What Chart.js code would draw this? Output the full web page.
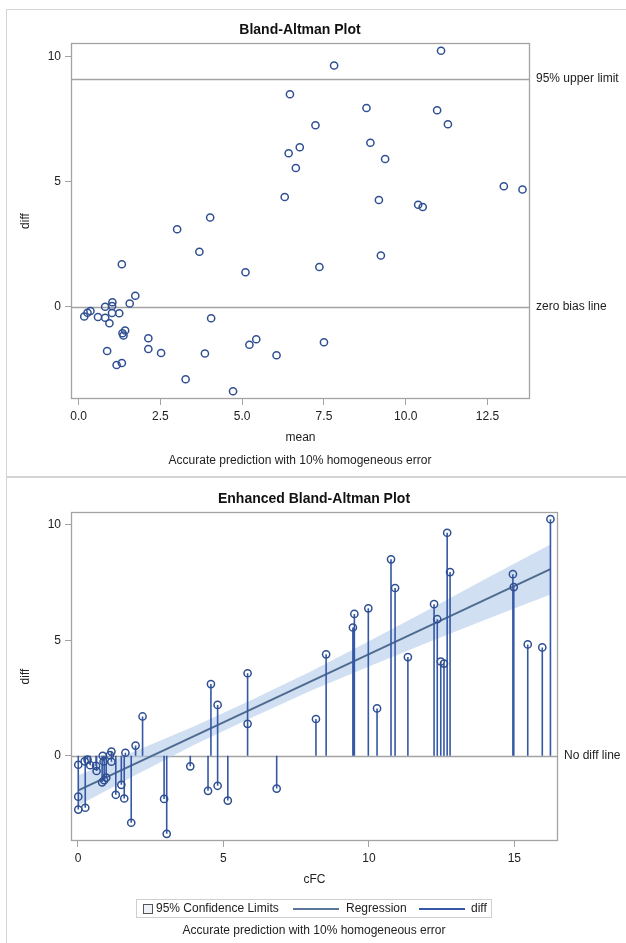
<!DOCTYPE html>
<html>
<head>
<meta charset="utf-8">
<script src="https://cdn.jsdelivr.net/npm/chart.js@4.4.1/dist/chart.umd.min.js"></script>
<style>
  body { margin: 0; background: #fff; font-family: "Liberation Sans", Arial, sans-serif; }
  #page { position: relative; width: 626px; height: 943px; overflow: hidden; background: #fff; }
  canvas { position: absolute; left: 0; }
  .txt { position: absolute; white-space: nowrap; color: #222; font-size: 12px; line-height: 14px; transform: translate(-50%, -50%); }
  .title { font-weight: bold; font-size: 14px; line-height: 16px; color: #111; }
  .frame { position: absolute; background: #d4d4d4; }
  #legend { position: absolute; left: 136px; top: 899px; width: 356px; height: 19px; border: 1px solid #cfcfcf; box-sizing: border-box; font-size: 12px; color: #222; }
  #legend span { position: absolute; top: 1px; line-height: 15px; white-space: nowrap; }
  #legend i { position: absolute; display: block; }
</style>
</head>
<body>
<div id="page">
  <div class="frame" style="left:6px;top:9px;width:620px;height:1px"></div>
  <div class="frame" style="left:6px;top:9px;width:1px;height:934px"></div>
  <div class="frame" style="left:6px;top:476px;width:620px;height:2px"></div>

  <canvas id="top" width="626" height="476" style="top:0"></canvas>
  <canvas id="bottom" width="626" height="466" style="top:477px"></canvas>

  <div class="txt title" style="left:300px;top:29px">Bland-Altman Plot</div>
  <div class="txt" style="left:300px;top:460px">Accurate prediction with 10% homogeneous error</div>

  <div class="txt title" style="left:314px;top:498px">Enhanced Bland-Altman Plot</div>
  <div id="legend">
    <i style="left:6px;top:4px;width:8px;height:8px;border:1px solid #555;background:#eef2f8"></i>
    <span style="left:19px">95% Confidence Limits</span>
    <i style="left:156px;top:8px;width:46px;height:2px;background:#5b7699"></i>
    <span style="left:209px">Regression</span>
    <i style="left:282px;top:8px;width:46px;height:2px;background:#3558a6"></i>
    <span style="left:334px">diff</span>
  </div>
  <div class="txt" style="left:314px;top:930px">Accurate prediction with 10% homogeneous error</div>
</div>

<script>
// differences (same subjects in both panels)
const diffVals = [8.50, 7.26, 6.14, 6.38, 5.55, 4.39, 3.57, 3.10, 10.24, 9.65, 7.95, 7.86, 7.30, 6.56, 5.91, 4.82, 4.69, 4.27, 4.08, 3.99,
  2.20, 1.70, 1.38, 1.59, 2.05, 0.44, 0.13, 0.18, 0.03, 0.00, -0.17, -0.24, -0.39, -0.41, -0.44, -0.25, -0.26, -0.66, -0.46,
  -0.95, -1.06, -1.15, -1.26, -1.69, -1.85, -1.87, -1.77, -2.25, -2.33, -2.90, -3.38, -1.30, -1.52, -1.94, -1.42];
const meanVals = [6.46, 7.24, 6.42, 6.76, 6.64, 6.30, 4.02, 3.01, 11.08, 7.81, 8.80, 10.96, 11.29, 8.92, 9.37, 13.00, 13.57, 9.18, 10.38, 10.52,
  3.69, 1.32, 5.10, 7.36, 9.24, 1.73, 1.56, 1.03, 1.02, 0.81, 0.36, 0.27, 0.17, 0.59, 0.81, 1.02, 1.24, 0.94, 4.05,
  1.42, 1.34, 1.37, 2.13, 2.13, 2.52, 3.86, 0.87, 1.32, 1.16, 3.27, 4.72, 5.43, 5.22, 6.05, 7.50];
const cfcVals = [10.76, 10.90, 9.50, 9.98, 9.45, 8.53, 5.83, 4.57, 16.24, 12.69, 12.79, 14.95, 14.98, 12.24, 12.35, 15.46, 15.96, 11.34, 12.47, 12.58,
  4.80, 2.22, 5.83, 8.18, 10.28, 1.98, 1.63, 1.15, 1.10, 0.85, 0.33, 0.23, 0.01, 0.42, 0.62, 0.88, 1.15, 0.64, 3.86,
  0.97, 0.90, 0.83, 1.49, 1.30, 1.59, 2.96, 0.01, 0.25, 0.01, 1.83, 3.05, 4.80, 4.47, 5.15, 6.83];

// reference lines
const upperLimit = 9.12;
const zeroLine = 0;

// regression line and 95% confidence band (enhanced plot)
const regX = [0.01, 16.24];
const regY = [-1.50, 8.08];
const bandX = [0.01, 2, 4, 6, 8, 10, 12, 14, 16.24];
const bandUpper = [-0.85, 0.22, 1.28, 2.43, 3.65, 4.96, 6.29, 7.65, 9.14];
const bandLower = [-2.15, -0.82, 0.48, 1.67, 2.81, 3.86, 4.89, 5.89, 6.98];

// ticks
const yTicks = [0, 5, 10];
const topXTicks = [0, 2.5, 5, 7.5, 10, 12.5];
const bottomXTicks = [0, 5, 10, 15];

const FONT = { family: '"Liberation Sans", Arial, sans-serif', size: 12 };
const TEXT = "#222";
const FRAME = "#a3a3a3";
const MARK = "#2f4f92";

const refPlugin = {
  id: "refLines",
  beforeDatasetsDraw(chart, args, opts) {
    const { ctx, chartArea: a } = chart;
    const y = chart.scales.y;
    ctx.save();
    ctx.strokeStyle = FRAME;
    ctx.lineWidth = 1.3;
    (opts.lines || []).forEach((l) => {
      const py = Math.round(y.getPixelForValue(l.value)) + 0.5;
      ctx.beginPath();
      ctx.moveTo(a.left, py);
      ctx.lineTo(a.right, py);
      ctx.stroke();
    });
    ctx.strokeRect(a.left + 0.5, a.top + 0.5, a.right - a.left - 1, a.bottom - a.top - 1);
    ctx.restore();
  },
  afterDraw(chart, args, opts) {
    const { ctx, chartArea: a } = chart;
    const y = chart.scales.y;
    ctx.save();
    ctx.fillStyle = TEXT;
    ctx.font = `12px ${FONT.family}`;
    ctx.textBaseline = "middle";
    (opts.lines || []).forEach((l) => {
      ctx.fillText(l.label, a.right + 6, y.getPixelForValue(l.value));
    });
    ctx.restore();
  },
};

function axisX(min, max, ticks, fmt, title, height, titlePad) {
  return {
    type: "linear", min, max,
    afterFit: (s) => { s.height = height; },
    afterBuildTicks: (s) => { s.ticks = ticks.map((v) => ({ value: v })); },
    ticks: { callback: fmt, font: FONT, color: TEXT, padding: 4, autoSkip: false, maxRotation: 0 },
    grid: { drawOnChartArea: false, tickLength: 6, color: FRAME },
    border: { display: false },
    title: { display: true, text: title, font: FONT, color: TEXT, padding: { top: 0, bottom: titlePad } },
  };
}

function axisY() {
  return {
    type: "linear", min: -3.69, max: 10.55,
    afterFit: (s) => { s.width = 71; },
    afterBuildTicks: (s) => { s.ticks = yTicks.map((v) => ({ value: v })); },
    ticks: { font: FONT, color: TEXT, padding: 4, autoSkip: false },
    grid: { drawOnChartArea: false, tickLength: 6, color: FRAME },
    border: { display: false },
    title: { display: true, text: "diff", font: FONT, color: TEXT, padding: { top: 18, bottom: 0 } },
  };
}

const markerStyle = {
  pointStyle: "circle", pointRadius: 3.6, pointBorderWidth: 1.5,
  pointBorderColor: MARK, pointBackgroundColor: "rgba(0,0,0,0)", showLine: false,
};

// top: classic Bland-Altman
new Chart(document.getElementById("top"), {
  type: "scatter",
  data: {
    datasets: [{ data: meanVals.map((m, i) => ({ x: m, y: diffVals[i] })), ...markerStyle }],
  },
  options: {
    responsive: false, animation: false, events: [],
    layout: { padding: { left: 0, top: 43, right: 96, bottom: 0 } },
    plugins: {
      legend: { display: false }, tooltip: { enabled: false },
      refLines: { lines: [{ value: upperLimit, label: "95% upper limit" }, { value: zeroLine, label: "zero bias line" }] },
    },
    scales: {
      x: axisX(-0.235, 13.8, topXTicks, (v) => v.toFixed(1), "mean", 77, 31),
      y: axisY(),
    },
  },
  plugins: [refPlugin],
});

// bottom: enhanced plot with needles, regression and confidence band
const needles = [];
cfcVals.forEach((c, i) => {
  needles.push({ x: c, y: 0 }, { x: c, y: diffVals[i] }, { x: c, y: null });
});

new Chart(document.getElementById("bottom"), {
  type: "scatter",
  data: {
    datasets: [
      { data: cfcVals.map((c, i) => ({ x: c, y: diffVals[i] })), ...markerStyle, order: 0 },
      { data: needles, showLine: true, spanGaps: false, borderColor: "#3558a6", borderWidth: 1.6, pointRadius: 0, order: 1 },
      { data: regX.map((x, i) => ({ x, y: regY[i] })), showLine: true, borderColor: "#4f6b90", borderWidth: 2, pointRadius: 0, order: 2 },
      { data: bandX.map((x, i) => ({ x, y: bandUpper[i] })), showLine: true, borderWidth: 0, pointRadius: 0,
        fill: "+1", backgroundColor: "rgba(176,202,232,0.6)", order: 3 },
      { data: bandX.map((x, i) => ({ x, y: bandLower[i] })), showLine: true, borderWidth: 0, pointRadius: 0, order: 4 },
    ],
  },
  options: {
    responsive: false, animation: false, events: [],
    layout: { padding: { left: 0, top: 35, right: 68, bottom: 0 } },
    plugins: {
      legend: { display: false }, tooltip: { enabled: false },
      refLines: { lines: [{ value: zeroLine, label: "No diff line" }] },
    },
    scales: {
      x: axisX(-0.24, 16.5, bottomXTicks, (v) => String(v), "cFC", 102, 56),
      y: axisY(),
    },
  },
  plugins: [refPlugin],
});
</script>
</body>
</html>
